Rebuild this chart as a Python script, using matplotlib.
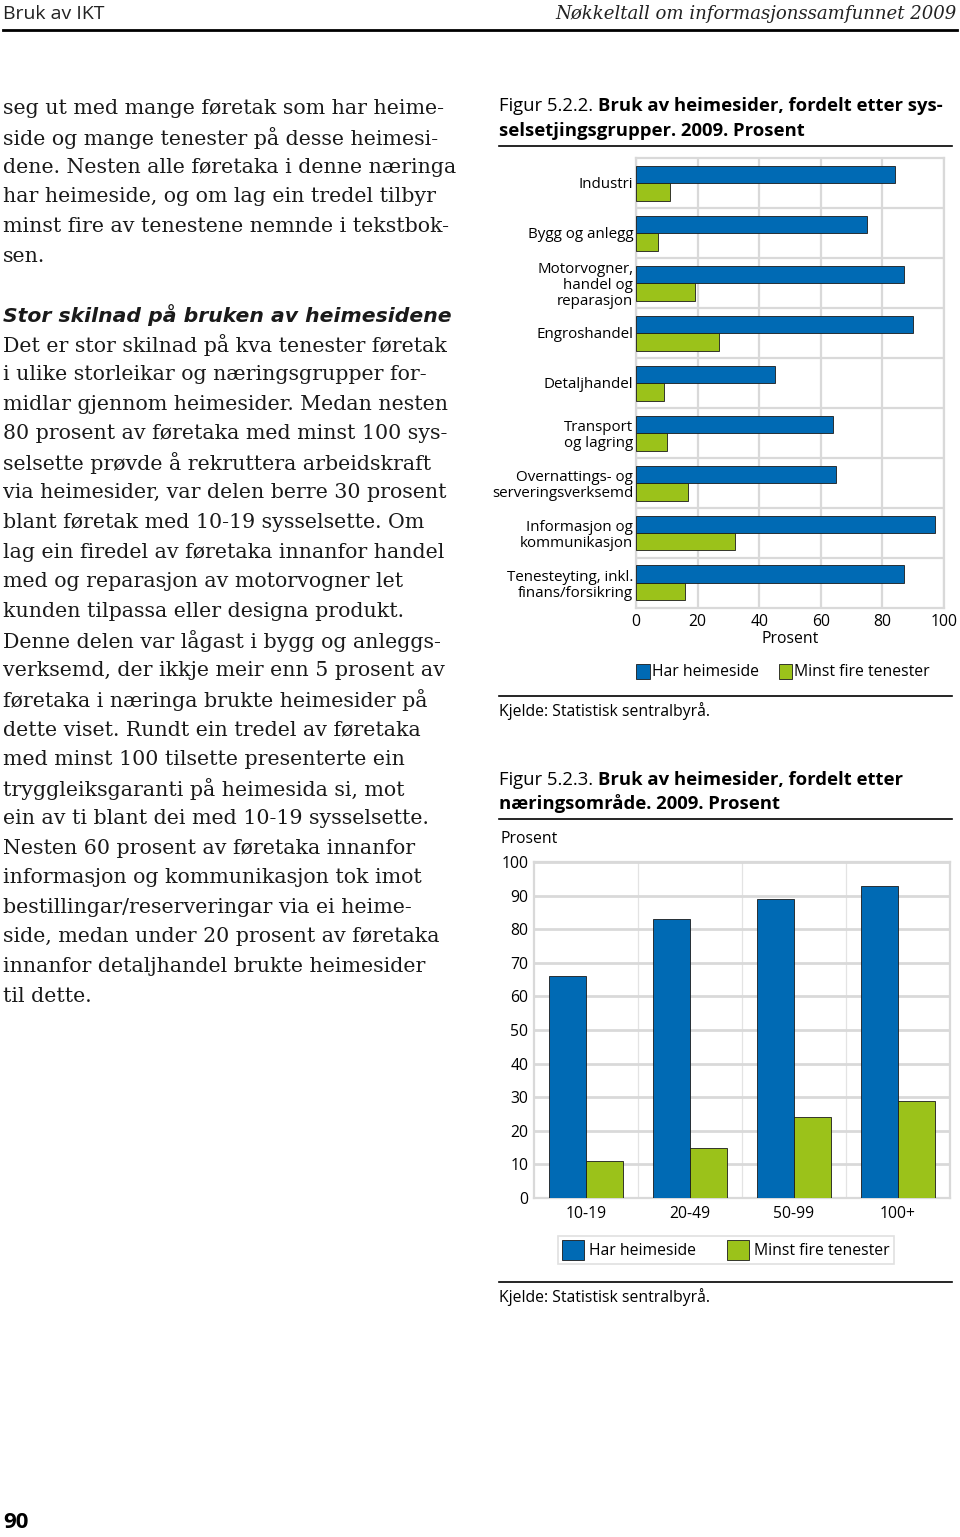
import numpy as np
import matplotlib.pyplot as plt
from matplotlib.lines import Line2D
from matplotlib.patches import Patch

# --- data ---
industries = ["Industri", "Bygg og anlegg", "Motorvogner,\nhandel og\nreparasjon",
              "Engroshandel", "Detaljhandel", "Transport\nog lagring",
              "Overnattings- og\nserveringsverksemd", "Informasjon og\nkommunikasjon",
              "Tenesteyting, inkl.\nfinans/forsikring"]
ind_heimeside = [84, 75, 87, 90, 45, 64, 65, 97, 87]
ind_fire = [11, 7, 19, 27, 9, 10, 17, 32, 16]

sizes = ["10-19", "20-49", "50-99", "100+"]
size_heimeside = [66, 83, 89, 93]
size_fire = [11, 15, 24, 29]

series_names = ["Har heimeside", "Minst fire tenester"]

para1 = ["seg ut med mange føretak som har heime-",
         "side og mange tenester på desse heimesi-",
         "dene. Nesten alle føretaka i denne næringa",
         "har heimeside, og om lag ein tredel tilbyr",
         "minst fire av tenestene nemnde i tekstbok-",
         "sen."]
heading = "Stor skilnad på bruken av heimesidene"
para2 = ["Det er stor skilnad på kva tenester føretak",
         "i ulike storleikar og næringsgrupper for-",
         "midlar gjennom heimesider. Medan nesten",
         "80 prosent av føretaka med minst 100 sys-",
         "selsette prøvde å rekruttera arbeidskraft",
         "via heimesider, var delen berre 30 prosent",
         "blant føretak med 10-19 sysselsette. Om",
         "lag ein firedel av føretaka innanfor handel",
         "med og reparasjon av motorvogner let",
         "kunden tilpassa eller designa produkt.",
         "Denne delen var lågast i bygg og anleggs-",
         "verksemd, der ikkje meir enn 5 prosent av",
         "føretaka i næringa brukte heimesider på",
         "dette viset. Rundt ein tredel av føretaka",
         "med minst 100 tilsette presenterte ein",
         "tryggleiksgaranti på heimesida si, mot",
         "ein av ti blant dei med 10-19 sysselsette.",
         "Nesten 60 prosent av føretaka innanfor",
         "informasjon og kommunikasjon tok imot",
         "bestillingar/reserveringar via ei heime-",
         "side, medan under 20 prosent av føretaka",
         "innanfor detaljhandel brukte heimesider",
         "til dette."]

BLUE = "#006ab4"
GREEN = "#9bc21a"
GRID = "#d9d9d9"
SANS = ["Open Sans", "DejaVu Sans"]
SERIF = ["DejaVu Serif"]
FS = 11.3      # chart text size
BODY = 14.75   # body text size
TITLE = 13.3

W, H = 960, 1537
plt.rcParams['font.family'] = SANS
fig = plt.figure(figsize=(W / 100, H / 100), dpi=100)


def fx(x):
    return x / W


def fy(y):
    return 1 - y / H


def axes_px(x0, y0, x1, y1):
    return fig.add_axes([x0 / W, 1 - y1 / H, (x1 - x0) / W, (y1 - y0) / H])


def rule(x0, x1, y, lw=1.2):
    fig.add_artist(Line2D([fx(x0), fx(x1)], [fy(y), fy(y)], color="black", lw=lw))


renderer = fig.canvas.get_renderer()


def fig_title(x, y, regular, bold):
    t = fig.text(fx(x), fy(y), regular, fontsize=TITLE, va="center", ha="left")
    bb = t.get_window_extent(renderer=renderer)
    fig.text(bb.x1 / W, fy(y), bold, fontsize=TITLE, fontweight="bold", va="center", ha="left")


# --- page header ---
fig.text(fx(3), fy(14), "Bruk av IKT", fontsize=14, va="center", ha="left", color="#222222")
fig.text(fx(957), fy(14), "Nøkkeltall om informasjonssamfunnet 2009", family=SERIF,
         style="italic", fontsize=13.1, va="center", ha="right", color="#222222")
rule(3, 957, 30, lw=2)

# --- left column text ---
for i, line in enumerate(para1):
    fig.text(fx(3), fy(108 + i * 29.6), line, family=SERIF, fontsize=BODY, va="center", color="#1a1a1a")
fig.text(fx(3), fy(315), heading, family=["DejaVu Sans"], fontweight="bold", style="italic",
         fontsize=14.7, va="center", color="#1a1a1a")
for i, line in enumerate(para2):
    fig.text(fx(3), fy(345 + i * 29.6), line, family=SERIF, fontsize=BODY, va="center", color="#1a1a1a")
fig.text(fx(3), fy(1523), "90", fontweight="bold", fontsize=16, va="center")

# --- figure 5.2.2 ---
fig_title(499, 106, "Figur 5.2.2. ", "Bruk av heimesider, fordelt etter sys-")
fig.text(fx(499), fy(131), "selsetjingsgrupper. 2009. Prosent", fontsize=TITLE,
         fontweight="bold", va="center")
rule(499, 952, 146)

ax1 = axes_px(636, 158, 944, 608)
yy = np.arange(len(industries))
h = 0.35
ax1.barh(yy - h / 2, ind_heimeside, height=h, color=BLUE, edgecolor="#1a1a1a", lw=0.6, zorder=3)
ax1.barh(yy + h / 2, ind_fire, height=h, color=GREEN, edgecolor="#1a1a1a", lw=0.6, zorder=3)
ax1.set_xlim(0, 100)
ax1.set_ylim(len(industries) - 0.5, -0.5)
ax1.set_xticks(np.arange(0, 101, 20))
ax1.set_yticks(yy)
ax1.set_yticklabels(industries, fontsize=10.9, linespacing=1.08)
ax1.set_yticks(np.arange(0.5, len(industries) - 0.5, 1), minor=True)
ax1.tick_params(axis="y", which="both", length=0, pad=2)
ax1.tick_params(axis="x", length=0, pad=4, labelsize=FS)
ax1.grid(axis="x", color=GRID, lw=1.6, zorder=0)
ax1.grid(axis="y", which="minor", color=GRID, lw=1.6, zorder=0)
for s in ax1.spines.values():
    s.set_color(GRID)
    s.set_linewidth(1.6)
ax1.set_xlabel("Prosent", fontsize=FS, labelpad=1)
for lab in ax1.get_yticklabels():
    lab.set_ha("right")

handles = [Patch(facecolor=BLUE, edgecolor="#1a1a1a", lw=0.6),
           Patch(facecolor=GREEN, edgecolor="#1a1a1a", lw=0.6)]
fig.legend(handles, series_names, loc="center left", bbox_to_anchor=(fx(630), fy(672)),
           ncol=2, frameon=False, fontsize=FS, handlelength=0.85, handleheight=1.1,
           handletextpad=0.15, columnspacing=1.25, borderaxespad=0)
rule(499, 952, 696)
fig.text(fx(499), fy(711), "Kjelde: Statistisk sentralbyrå.", fontsize=FS, va="center")

# --- figure 5.2.3 ---
fig_title(499, 780, "Figur 5.2.3. ", "Bruk av heimesider, fordelt etter")
fig.text(fx(499), fy(804), "næringsområde. 2009. Prosent", fontsize=TITLE,
         fontweight="bold", va="center")
rule(499, 952, 819)
fig.text(fx(501), fy(839), "Prosent", fontsize=FS, va="center")

ax2 = axes_px(534, 862, 950, 1198)
xx = np.arange(len(sizes))
w = 0.353
ax2.bar(xx - w / 2, size_heimeside, width=w, color=BLUE, edgecolor="#1a1a1a", lw=0.6, zorder=3)
ax2.bar(xx + w / 2, size_fire, width=w, color=GREEN, edgecolor="#1a1a1a", lw=0.6, zorder=3)
ax2.set_xlim(-0.5, len(sizes) - 0.5)
ax2.set_ylim(0, 100)
ax2.set_yticks(np.arange(0, 101, 10))
ax2.set_xticks(xx)
ax2.set_xticklabels(sizes)
ax2.set_xticks(np.arange(0.5, len(sizes) - 0.5, 1), minor=True)
ax2.tick_params(axis="both", which="both", length=0, labelsize=FS)
ax2.tick_params(axis="y", pad=4)
ax2.tick_params(axis="x", pad=6)
ax2.grid(axis="y", color=GRID, lw=2, zorder=0)
ax2.grid(axis="x", which="minor", color="#e3e3e3", lw=0.9, zorder=0)
for s in ax2.spines.values():
    s.set_color(GRID)
    s.set_linewidth(1.6)

leg = fig.legend(handles, series_names, loc="center", bbox_to_anchor=(fx(726), fy(1250)),
                 ncol=2, frameon=True, fancybox=False, fontsize=FS, handlelength=1.4,
                 handleheight=1.5, handletextpad=0.3, columnspacing=2.0, borderpad=0.3,
                 borderaxespad=0)
leg.get_frame().set_edgecolor(GRID)
leg.get_frame().set_linewidth(1.2)
rule(499, 952, 1282)
fig.text(fx(499), fy(1297), "Kjelde: Statistisk sentralbyrå.", fontsize=FS, va="center")

fig.savefig("out.png", dpi=100)
